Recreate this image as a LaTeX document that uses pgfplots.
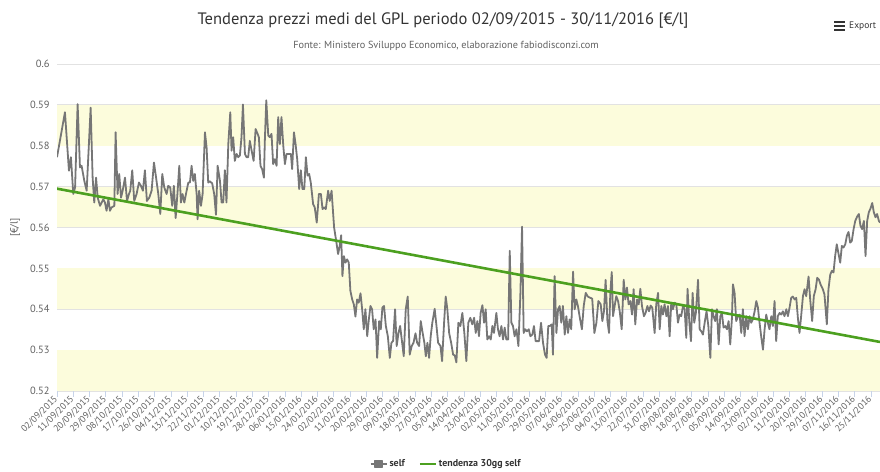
\documentclass[border=0pt]{standalone}
\usepackage{fontspec}
\setmainfont{PT Sans}
\usepackage{pgfplots}
\pgfplotsset{compat=1.18}
\definecolor{band}{RGB}{252,252,220}
\definecolor{gridc}{RGB}{226,226,226}
\definecolor{axisc}{RGB}{200,212,232}
\definecolor{labc}{RGB}{96,96,96}
\definecolor{titc}{RGB}{51,51,51}
\definecolor{selfc}{RGB}{118,118,118}
\definecolor{trendc}{RGB}{76,160,32}
\begin{document}
\begin{tikzpicture}
\node[font=\fontsize{16.6}{19}\selectfont, text=titc] at (443bp,451bp) {Tendenza prezzi medi del GPL periodo 02/09/2015 - 30/11/2016 [€/l]};
\node[font=\fontsize{10.3}{12}\selectfont, text=labc] at (446bp,426bp) {Fonte: Ministero Sviluppo Economico, elaborazione fabiodisconzi.com};
\fill[titc] (834bp,449bp) rectangle (845bp,451bp);
\fill[titc] (834bp,445bp) rectangle (845bp,447bp);
\fill[titc] (834bp,441bp) rectangle (845bp,443bp);
\node[font=\fontsize{9.5}{11}\selectfont, text=titc, anchor=west, inner sep=0pt] at (849bp,446bp) {Export};
\begin{axis}[
  at={(57bp,81bp)}, anchor=south west, scale only axis,
  width=823bp, height=327bp,
  set layers,
  xmin=0, xmax=455, ymin=0.52, ymax=0.6,
  axis lines*=left,
  x axis line style={draw=axisc, line width=1bp},
  y axis line style={draw=none},
  ymajorgrids, grid style={draw=gridc, line width=0.8bp},
  ytick={0.52,0.53,0.54,0.55,0.56,0.57,0.58,0.59,0.6},
  yticklabels={0.52,0.53,0.54,0.55,0.56,0.57,0.58,0.59,0.6},
  ytick style={draw=none},
  yticklabel style={font=\fontsize{10.5}{12}\selectfont, text=labc, xshift=-4bp},
  xtick={0,9,...,450},
  xticklabels={02/09/2015,11/09/2015,20/09/2015,29/09/2015,08/10/2015,17/10/2015,26/10/2015,04/11/2015,13/11/2015,22/11/2015,01/12/2015,10/12/2015,19/12/2015,28/12/2015,06/01/2016,15/01/2016,24/01/2016,02/02/2016,11/02/2016,20/02/2016,29/02/2016,09/03/2016,18/03/2016,27/03/2016,05/04/2016,14/04/2016,23/04/2016,02/05/2016,11/05/2016,20/05/2016,29/05/2016,07/06/2016,16/06/2016,25/06/2016,04/07/2016,13/07/2016,22/07/2016,31/07/2016,09/08/2016,18/08/2016,27/08/2016,05/09/2016,14/09/2016,23/09/2016,02/10/2016,11/10/2016,20/10/2016,29/10/2016,07/11/2016,16/11/2016,25/11/2016},
  xtick style={draw=axisc, line width=0.8bp},
  xtick align=outside, major tick length=6bp,
  xticklabel style={font=\fontsize{9.3}{11}\selectfont, text=labc, rotate=45, anchor=east, inner sep=1bp},
  ylabel={{[€/l]}},
  ylabel style={at={(axis description cs:-0.051,0.5)}, anchor=center, font=\fontsize{10.5}{12}\selectfont, text=labc},
  legend style={draw=none, fill=none, at={(0.4727,-0.2232)}, anchor=center, legend columns=2,
    font=\bfseries\fontsize{10}{12}\selectfont, text=titc,
    /tikz/every even column/.append style={column sep=12bp}},
]
\fill[band, on layer=axis background] (axis cs:0,0.52) rectangle (axis cs:455,0.53);
\fill[band, on layer=axis background] (axis cs:0,0.54) rectangle (axis cs:455,0.55);
\fill[band, on layer=axis background] (axis cs:0,0.56) rectangle (axis cs:455,0.57);
\fill[band, on layer=axis background] (axis cs:0,0.58) rectangle (axis cs:455,0.59);
\addplot[selfc, line width=1.8bp, line join=round, no markers,
  legend image code/.code={\draw[selfc, line width=2bp] (0bp,0bp) -- (16bp,0bp); \fill[selfc] (4.5bp,-3.5bp) rectangle (11.5bp,3.5bp);}]
coordinates {
(0,0.5772) (4.4,0.5882) (6.6,0.5739) (7.7,0.5772) (9.0,0.5682) (10.0,0.5698) (11.4,0.5902) (12.7,0.5747) (13.6,0.5751) (15.1,0.5714) (16.4,0.5690) (18.6,0.5893) (19.7,0.5722) (20.6,0.5661) (21.6,0.5722) (22.5,0.5673) (23.8,0.5653) (25.6,0.5669) (26.5,0.5661) (27.4,0.5641) (28.4,0.5669) (29.3,0.5641) (30.2,0.5649) (31.7,0.5653) (32.4,0.5833) (33.5,0.5682) (34.4,0.5731) (35.4,0.5673) (36.3,0.5690) (37.6,0.5722) (38.7,0.5665) (39.8,0.5682) (40.5,0.5690) (41.6,0.5740) (42.7,0.5665) (44.0,0.5682) (45.3,0.5710) (46.4,0.5702) (47.5,0.5690) (48.6,0.5740) (49.7,0.5665) (51.0,0.5673) (52.3,0.5690) (53.6,0.5759) (54.5,0.5731) (56.0,0.5682) (57.1,0.5633) (58.2,0.5731) (59.3,0.5698) (60.6,0.5682) (61.5,0.5702) (62.6,0.5698) (63.7,0.5653) (64.6,0.5702) (65.6,0.5623) (66.7,0.5690) (67.6,0.5751) (68.5,0.5661) (69.4,0.5682) (70.4,0.5661) (71.3,0.5682) (72.6,0.5710) (73.5,0.5710) (74.4,0.5751) (75.3,0.5714) (76.2,0.5731) (77.2,0.5682) (77.7,0.5620) (78.6,0.5690) (79.6,0.5653) (80.5,0.5682) (81.8,0.5833) (82.7,0.5796) (83.6,0.5710) (84.5,0.5713) (85.8,0.5708) (86.9,0.5682) (87.9,0.5631) (88.8,0.5751) (90.1,0.5714) (91.0,0.5661) (91.9,0.5661) (92.8,0.5740) (93.7,0.5661) (94.7,0.5804) (95.8,0.5882) (96.5,0.5788) (97.4,0.5821) (98.3,0.5763) (99.3,0.5780) (100.2,0.5772) (101.1,0.5776) (102.0,0.5821) (102.8,0.5901) (103.9,0.5780) (104.8,0.5772) (105.7,0.5772) (106.6,0.5812) (107.6,0.5788) (108.7,0.5763) (109.8,0.5841) (110.9,0.5829) (111.6,0.5821) (112.5,0.5751) (113.4,0.5743) (114.4,0.5722) (114.9,0.5812) (115.7,0.5911) (116.8,0.5825) (117.7,0.5821) (118.6,0.5829) (119.5,0.5755) (120.4,0.5767) (121.4,0.5751) (122.3,0.5870) (123.2,0.5804) (124.1,0.5870) (125.1,0.5800) (126.0,0.5755) (126.9,0.5780) (127.8,0.5780) (129.3,0.5780) (130.0,0.5743) (131.0,0.5833) (131.9,0.5804) (132.8,0.5767) (133.9,0.5694) (134.8,0.5740) (135.7,0.5694) (136.7,0.5694) (137.6,0.5772) (138.5,0.5727) (139.4,0.5731) (140.3,0.5710) (141.6,0.5657) (142.5,0.5649) (143.6,0.5612) (144.8,0.5682) (145.9,0.5682) (146.8,0.5645) (147.7,0.5649) (148.6,0.5645) (149.9,0.5690) (150.8,0.5665) (151.8,0.5690) (153.2,0.5600)
(154.5,0.5563) (155.4,0.5535) (156.3,0.5555) (157.1,0.5581) (157.8,0.5481) (158.6,0.5530) (159.5,0.5514) (160.4,0.5522) (161.3,0.5514) (162.2,0.5445) (163.2,0.5424) (164.1,0.5412) (165.0,0.5382) (165.9,0.5424) (166.8,0.5416) (167.8,0.5439) (168.7,0.5400) (169.6,0.5351) (170.5,0.5400) (171.5,0.5334) (172.4,0.5375) (173.3,0.5408) (174.2,0.5400) (175.1,0.5351) (176.1,0.5375) (177.0,0.5281) (178.1,0.5371) (179.0,0.5351) (179.9,0.5404) (180.8,0.5408) (181.8,0.5359) (182.9,0.5334) (184.0,0.5281) (184.9,0.5318) (185.8,0.5322) (186.9,0.5400) (187.8,0.5310) (188.8,0.5342) (189.7,0.5359) (190.6,0.5326) (191.7,0.5285) (192.8,0.5400) (193.9,0.5431) (195.0,0.5289) (196.1,0.5310) (197.1,0.5318) (198.2,0.5341) (199.1,0.5318) (200.2,0.5310) (201.1,0.5371) (202.0,0.5346) (203.1,0.5318) (203.9,0.5285) (204.8,0.5318) (205.7,0.5281) (206.6,0.5334) (207.5,0.5367) (208.8,0.5401) (209.8,0.5359) (210.7,0.5318) (212.0,0.5310) (212.9,0.5273) (214.0,0.5367) (214.9,0.5431) (215.8,0.5400) (216.8,0.5342) (217.9,0.5318) (219.0,0.5289) (219.9,0.5287) (220.8,0.5270) (221.9,0.5367) (223.0,0.5359) (224.1,0.5391) (225.2,0.5342) (226.3,0.5273) (227.4,0.5367) (228.5,0.5379) (229.6,0.5363) (230.6,0.5379) (231.5,0.5342) (232.4,0.5371) (233.3,0.5334) (234.2,0.5391) (235.2,0.5410) (236.1,0.5367) (237.0,0.5400) (237.9,0.5326) (238.9,0.5334) (239.8,0.5326) (240.7,0.5359) (241.6,0.5342) (242.9,0.5391) (243.8,0.5351) (244.7,0.5334) (245.7,0.5359) (246.6,0.5326) (247.5,0.5355) (248.4,0.5326) (249.4,0.5326) (250.3,0.5543) (251.2,0.5367) (252.1,0.5359) (253.0,0.5334) (254.0,0.5351) (255.1,0.5310) (256.2,0.5440) (257.1,0.5602) (258.0,0.5342) (258.9,0.5351) (259.8,0.5346) (260.8,0.5351) (261.7,0.5334) (262.8,0.5338) (263.7,0.5359) (264.6,0.5322) (265.6,0.5322) (266.5,0.5322) (267.6,0.5367) (268.7,0.5318) (269.8,0.5289) (270.7,0.5281) (271.6,0.5359) (272.4,0.5359) (273.5,0.5363) (274.2,0.5289) (275.1,0.5481) (276.1,0.5342) (277.0,0.5400) (277.9,0.5408) (278.8,0.5367) (279.7,0.5408) (280.7,0.5338) (281.6,0.5383) (282.5,0.5342) (283.4,0.5375) (284.3,0.5351) (285.3,0.5492) (286.2,0.5400) (287.1,0.5424) (288.0,0.5408) (288.9,0.5383) (290.2,0.5351) (291.2,0.5408) (292.3,0.5440) (293.5,0.5431) (294.8,0.5428) (295.9,0.5426) (297.1,0.5342) (298.2,0.5367) (299.3,0.5420)
(300.6,0.5412) (301.5,0.5371) (302.4,0.5395) (303.3,0.5472) (304.3,0.5371) (305.2,0.5342) (305.9,0.5440) (306.7,0.5491) (307.4,0.5383) (308.3,0.5408) (309.2,0.5432) (310.2,0.5420) (311.1,0.5395) (312.2,0.5351) (313.3,0.5472) (314.2,0.5424) (315.1,0.5453) (316.0,0.5412) (317.0,0.5420) (317.9,0.5387) (318.8,0.5449) (319.7,0.5363) (320.7,0.5424) (321.6,0.5412) (322.5,0.5450) (323.4,0.5408) (324.5,0.5383) (325.4,0.5391) (326.4,0.5408) (327.3,0.5395) (328.2,0.5409) (329.1,0.5404) (330.4,0.5342) (331.3,0.5412) (332.3,0.5440) (333.2,0.5351) (334.1,0.5408) (335.0,0.5387) (335.9,0.5412) (336.9,0.5383) (337.8,0.5408) (338.7,0.5334) (339.6,0.5416) (340.5,0.5400) (341.5,0.5416) (342.4,0.5412) (343.3,0.5367) (344.2,0.5387) (345.1,0.5383) (346.1,0.5408) (347.0,0.5400) (347.9,0.5330) (348.6,0.5450) (349.6,0.5367) (350.5,0.5322) (351.4,0.5440) (352.3,0.5367) (353.2,0.5391) (354.4,0.5472) (355.3,0.5351) (356.2,0.5346) (357.1,0.5338) (358.2,0.5371) (359.1,0.5395) (360.1,0.5359) (361.2,0.5281) (362.1,0.5400) (363.0,0.5383) (363.9,0.5371) (364.8,0.5400) (365.8,0.5314) (366.7,0.5383) (367.6,0.5391) (368.5,0.5355) (369.5,0.5359) (370.4,0.5351) (371.3,0.5371) (372.2,0.5314) (373.1,0.5375) (373.7,0.5461) (374.6,0.5440) (375.5,0.5371) (376.5,0.5383) (377.4,0.5387) (378.3,0.5342) (379.2,0.5400) (380.1,0.5334) (381.1,0.5383) (382.0,0.5351) (382.9,0.5383) (383.8,0.5367) (384.7,0.5375) (385.7,0.5395) (386.6,0.5420) (387.5,0.5404) (388.4,0.5367) (389.3,0.5334) (390.3,0.5301) (391.2,0.5351) (392.1,0.5387) (393.0,0.5367) (393.9,0.5351) (394.9,0.5383) (395.8,0.5359) (396.7,0.5420) (397.6,0.5322) (398.5,0.5383) (399.5,0.5391) (400.4,0.5387) (401.3,0.5395) (402.2,0.5383) (403.2,0.5400) (404.1,0.5383) (405.0,0.5404) (405.9,0.5428) (406.8,0.5431) (407.8,0.5424) (408.7,0.5428) (409.6,0.5379) (410.5,0.5342) (411.4,0.5383) (412.4,0.5432) (413.3,0.5449) (414.2,0.5432) (415.5,0.5480) (416.4,0.5424) (417.5,0.5371) (418.4,0.5432) (419.4,0.5449) (420.3,0.5477) (421.2,0.5473) (422.1,0.5461) (423.4,0.5449) (424.3,0.5436) (425.6,0.5363) (426.5,0.5449) (427.5,0.5485) (428.4,0.5494) (429.3,0.5490) (430.2,0.5530) (431.1,0.5559) (432.1,0.5535) (433.0,0.5514) (433.9,0.5555) (434.8,0.5551) (435.8,0.5559) (436.7,0.5580) (437.6,0.5589) (438.5,0.5563) (439.4,0.5567) (440.4,0.5596) (441.3,0.5616) (442.4,0.5627) (443.3,0.5633) (444.2,0.5604) (445.1,0.5596) (446.1,0.5616) (447.0,0.5530) (447.9,0.5616) (448.8,0.5637) (449.8,0.5647) (450.7,0.5660) (451.6,0.5637) (452.5,0.5625) (453.4,0.5633) (454.4,0.5616) (455,0.5612)
};
\addlegendentry{self}
\addplot[trendc, line width=2.6bp, no markers,
  legend image code/.code={\draw[trendc, line width=2bp] (0bp,0bp) -- (16bp,0bp);}]
coordinates {(0,0.5695) (455,0.5320)};
\addlegendentry{tendenza 30gg self}
\end{axis}
\pgfresetboundingbox
\path (0,0) rectangle (880bp,472bp);
\end{tikzpicture}
\end{document}
